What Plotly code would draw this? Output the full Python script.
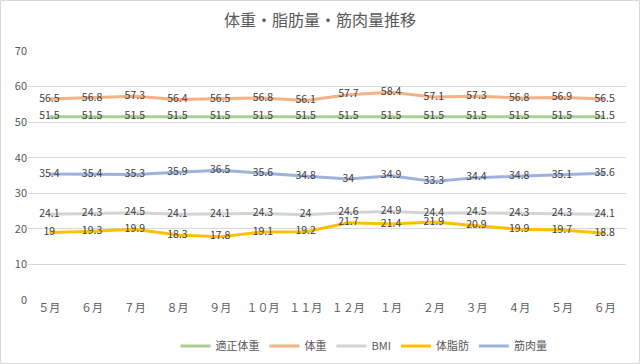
import plotly.graph_objects as go

months = ["５月", "６月", "７月", "８月", "９月", "１０月", "１１月", "１２月", "１月", "２月", "３月", "４月", "５月", "６月"]
tekisei = [51.5] * 14
taiju = [56.5, 56.8, 57.3, 56.4, 56.5, 56.8, 56.1, 57.7, 58.4, 57.1, 57.3, 56.8, 56.9, 56.5]
bmi = [24.1, 24.3, 24.5, 24.1, 24.1, 24.3, 24, 24.6, 24.9, 24.4, 24.5, 24.3, 24.3, 24.1]
shibou = [19, 19.3, 19.9, 18.3, 17.8, 19.1, 19.2, 21.7, 21.4, 21.9, 20.9, 19.9, 19.7, 18.8]
kinniku = [35.4, 35.4, 35.3, 35.9, 36.5, 35.6, 34.8, 34, 34.9, 33.3, 34.4, 34.8, 35.1, 35.6]
y_ticks = [0, 10, 20, 30, 40, 50, 60, 70]

series = [
    ("適正体重", tekisei, "#A9D18E"),
    ("体重", taiju, "#F4B183"),
    ("BMI", bmi, "#D3D3D3"),
    ("体脂肪", shibou, "#FFC000"),
    ("筋肉量", kinniku, "#9DB3DD"),
]

FONT = "Noto Sans CJK JP"
x = list(range(len(months)))

fig = go.Figure()
for name, vals, color in series:
    fig.add_trace(go.Scatter(
        x=x, y=vals, name=name, mode="lines+text",
        line=dict(color=color, width=3),
        text=[f"{v:g}" for v in vals], textposition="middle center",
        textfont=dict(size=10.5, color="#404040", family=FONT),
        hoverinfo="skip",
    ))

W, H = 640, 364
ml, mr, mt, mb = 28, 14, 51, 64
pw, ph = W - ml - mr, H - mt - mb

fig.add_shape(type="rect", xref="paper", yref="paper",
              x0=-(ml - 0.5) / pw, x1=1 + (mr - 0.5) / pw,
              y0=-(mb - 0.5) / ph, y1=1 + (mt - 0.5) / ph,
              line=dict(color="#D9D9D9", width=1), layer="below")

fig.update_layout(
    width=W, height=H,
    margin=dict(l=ml, r=mr, t=mt, b=mb),
    paper_bgcolor="white", plot_bgcolor="white",
    font=dict(family=FONT, color="#595959"),
    title=dict(text="体重・脂肪量・筋肉量推移", x=0.5, xref="container", xanchor="center",
               y=1 - 20 / H, yref="container", yanchor="middle",
               font=dict(size=16, color="#595959", family=FONT)),
    xaxis=dict(range=[-0.5, len(months) - 0.5], tickvals=x, ticktext=months,
               showgrid=False, zeroline=False, showline=False,
               tickfont=dict(size=11, color="#595959"), ticks=""),
    yaxis=dict(range=[0, 70], tickvals=y_ticks, showgrid=True, gridcolor="#D9D9D9",
               gridwidth=1, zeroline=False, showline=False,
               tickfont=dict(size=11, color="#595959"), ticks=""),
    legend=dict(orientation="h", xref="container", yref="container",
                x=364 / W, xanchor="center", y=1 - 346 / H, yanchor="middle",
                font=dict(size=11, color="#595959"), itemwidth=30),
    showlegend=True,
)

fig.write_html("out.html", config={"displayModeBar": False},
               post_script="document.body.style.margin='0';")
